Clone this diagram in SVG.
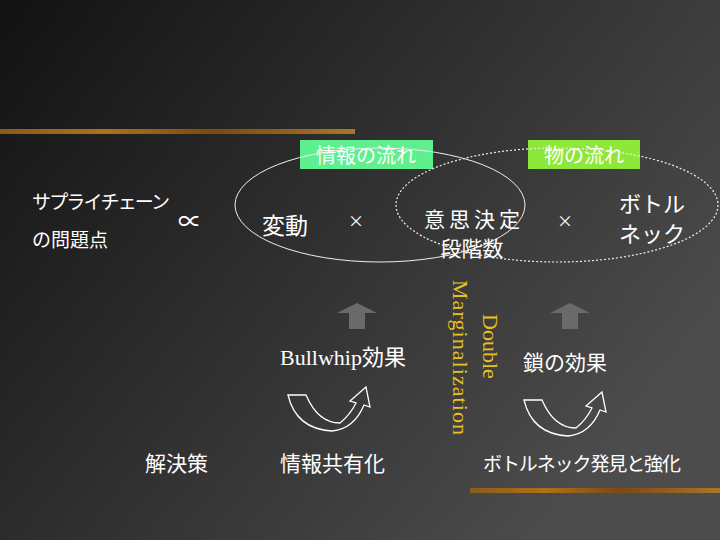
<svg xmlns="http://www.w3.org/2000/svg" width="720" height="540" viewBox="0 0 720 540">
<defs>
<linearGradient id="bg" x1="0" y1="0" x2="1" y2="0.6">
<stop offset="0" stop-color="#121212"/><stop offset="1" stop-color="#4c4c4c"/>
</linearGradient>
<linearGradient id="deco" x1="0" y1="0" x2="1" y2="0">
<stop offset="0" stop-color="#8a5a1a"/><stop offset="0.3" stop-color="#b0701c"/><stop offset="0.6" stop-color="#7a4a10"/><stop offset="1" stop-color="#a8762a"/>
</linearGradient>
<g id="uarrow"><path d="M0,0 L-20,10 L-8,10 L-8,26 L8,26 L8,10 L20,10 Z" fill="#6a6a6a"/></g>
<g id="cyc"><path d="M0,0 L18,0 Q30,28 52,28 Q62,20 68,8 L62,6 L78,-8 L82,12 L76,10 Q66,34 44,36 Q8,34 0,0 Z" fill="none" stroke="#fff" stroke-width="1.3"/></g>
</defs>
<style>
text{font-family:"Noto Sans CJK JP","Liberation Sans",sans-serif;fill:#fff}
.s{font-family:"Liberation Serif","Noto Sans CJK JP",serif}
.y{fill:#e8c020;font-family:"Liberation Serif",serif;font-size:22px}
</style>
<rect width="720" height="540" fill="url(#bg)"/>
<rect x="0" y="129" width="355" height="5" fill="url(#deco)"/>
<rect x="470" y="488" width="250" height="5" fill="url(#deco)"/>
<g id="boxes">
<rect x="300" y="140" width="133" height="29" fill="#5ef08e"/>
<rect x="528" y="140" width="112" height="29" fill="#8ee83a"/>
<text x="366" y="163" font-size="20" text-anchor="middle">情報の流れ</text>
<text x="584" y="163" font-size="20" text-anchor="middle">物の流れ</text>
</g>
<g id="connectors">
<ellipse cx="380" cy="205" rx="145" ry="57" fill="none" stroke="#eee" stroke-width="1"/>
<ellipse cx="557" cy="205" rx="161" ry="57" fill="none" stroke="#eee" stroke-width="1.2" stroke-dasharray="2,2"/>
<use href="#uarrow" x="357" y="303"/>
<use href="#uarrow" x="570" y="303"/>
<use href="#cyc" x="288" y="395"/>
<use href="#cyc" x="524" y="400"/>
</g>
<g id="problem"><text x="32" y="209" font-size="19" textLength="138">サプライチェーン</text><text x="32" y="247" font-size="19">の問題点</text></g>
<text x="178" y="230" font-size="24" class="s">∝</text>
<g id="hendo"><text x="262" y="234" font-size="23">変動</text></g>
<text x="348" y="227" font-size="16">×</text>
<g id="ishi"><text x="472" y="227" font-size="21" text-anchor="middle" textLength="96">意思決定</text><text x="472" y="256" font-size="21" text-anchor="middle">段階数</text></g>
<text x="557" y="227" font-size="16">×</text>
<g id="bottle"><text x="652" y="212" font-size="22" text-anchor="middle">ボトル</text><text x="652" y="242" font-size="22" text-anchor="middle">ネック</text></g>
<g id="bullwhip"><text x="280" y="365" font-size="22" class="s">Bullwhip効果</text></g>
<g id="dm"><text class="y" transform="translate(483,314) rotate(90)">Double</text><text class="y" transform="translate(453,280) rotate(90)" textLength="155">Marginalization</text></g>
<g id="chain"><text x="523" y="370" font-size="21">鎖の効果</text></g>
<g id="sol"><text x="145" y="471" font-size="21">解決策</text></g>
<g id="share"><text x="280" y="471" font-size="21">情報共有化</text></g>
<g id="find"><text x="483" y="471" font-size="19" textLength="198">ボトルネック発見と強化</text></g>
</svg>
